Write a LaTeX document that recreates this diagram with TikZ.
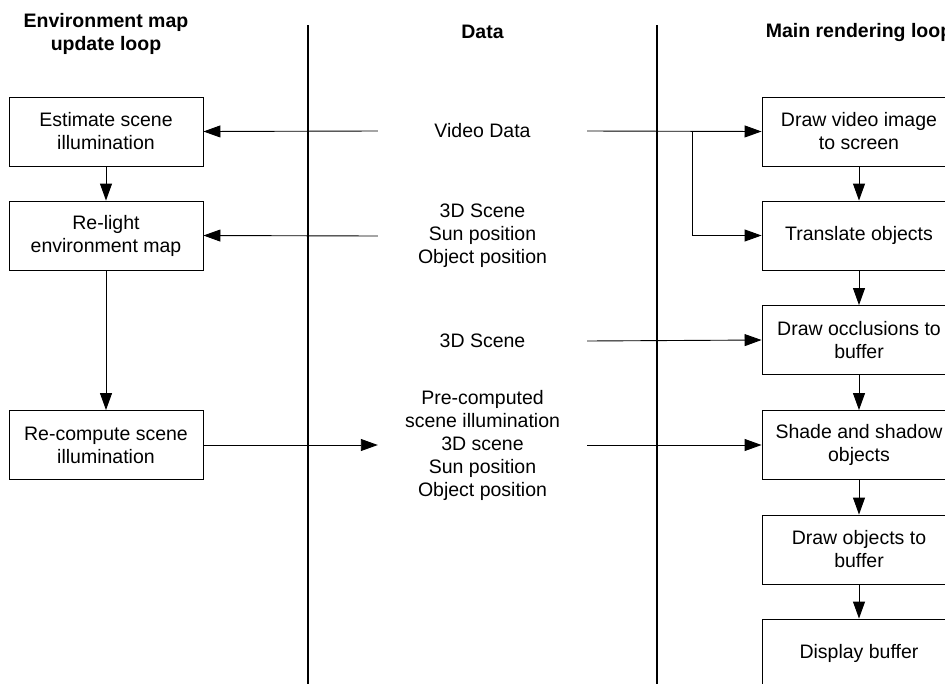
\documentclass[tikz,border=0pt]{standalone}
\usepackage{fontspec}
\setmainfont{Liberation Sans}
\usetikzlibrary{arrows.meta}
\begin{document}
\begin{tikzpicture}[x=1pt,y=-1pt,
  every node/.style={font=\fontsize{19.5}{23}\selectfont, align=center},
  stepbox/.style={draw, line width=0.9pt, minimum width=194pt, minimum height=69pt, inner sep=2pt},
  datatext/.style={minimum width=209pt, inner sep=0pt},
  header/.style={font=\fontsize{19.5}{23}\selectfont\bfseries},
  flow/.style={line width=0.9pt, -{Triangle[length=17pt,width=12pt]}},
  lane/.style={line width=2.6pt}]
\useasboundingbox (0,0) rectangle (945,683);

% column headers
\node[header] (hEnv) at (106,33.5) {Environment map\\update loop};
\node[header] (hData) at (482.5,32) {Data};
\node[header] (hMain) at (859,32) {Main rendering loop};

% lane separators
\coordinate (l1t) at (308,25); \coordinate (l1b) at (308,690);
\coordinate (l2t) at (657,25); \coordinate (l2b) at (657,690);
\draw[lane] (l1t) -- (l1b);
\draw[lane] (l2t) -- (l2b);

% environment map update loop
\node[stepbox] (est) at (106,131.5) {Estimate scene\\illumination};
\node[stepbox] (relight) at (106,235.5) {Re-light\\environment map};
\node[stepbox] (recomp) at (106,445) {Re-compute scene\\illumination};

% data
\node[datatext] (video) at (482.5,131) {Video Data};
\node[datatext] (scenepos) at (482.5,236) {3D Scene\\Sun position\\Object position};
\node[datatext] (scene) at (482.5,341) {3D Scene};
\node[datatext] (precomp) at (482.5,445) {Pre-computed\\scene illumination\\3D scene\\Sun position\\Object position};

% main rendering loop
\node[stepbox] (drawvid) at (859,131.5) {Draw video image\\to screen};
\node[stepbox] (trans) at (859,235.5) {Translate objects};
\node[stepbox] (occl) at (859,340) {Draw occlusions to\\buffer};
\node[stepbox] (shade) at (859,445) {Shade and shadow\\objects};
\node[stepbox] (drawobj) at (859,549.5) {Draw objects to\\buffer};
\node[stepbox] (disp) at (859,653.5) {Display buffer};

% connectors
\draw[flow] (video.west) -- (est.east);
\draw[flow] (scenepos.west) -- (relight.east);
\draw[flow] (recomp.east) -- (precomp.west);
\draw[flow] (est) -- (relight);
\draw[flow] (relight) -- (recomp);

\draw[flow] (video.east) -- (drawvid.west);
\coordinate (split) at (692,131);
\draw[flow] (split) |- (trans.west);
\draw[flow] (scene.east) -- (occl.west);
\draw[flow] (precomp.east) -- (shade.west);

\draw[flow] (drawvid) -- (trans);
\draw[flow] (trans) -- (occl);
\draw[flow] (occl) -- (shade);
\draw[flow] (shade) -- (drawobj);
\draw[flow] (drawobj) -- (disp);
\end{tikzpicture}
\end{document}
